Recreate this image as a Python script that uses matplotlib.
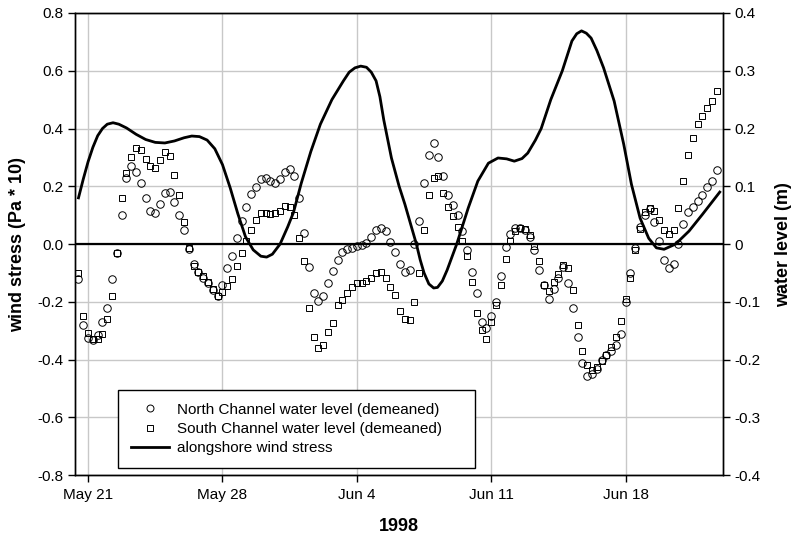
import numpy as np
import matplotlib
matplotlib.use('Agg')
import matplotlib.pyplot as plt
from matplotlib.lines import Line2D

plt.rcParams['font.family'] = ['Liberation Sans', 'DejaVu Sans']

# water level samples every 6 h, starting 12 h before May 21 (m, demeaned)
start_day = -0.5
step_day = 0.25
north = [
    -0.060, -0.140,
    -0.163, -0.166, -0.158, -0.135,
    -0.110, -0.060, -0.015, 0.050,
    0.115, 0.135, 0.125, 0.105,
    0.080, 0.057, 0.054, 0.070,
    0.088, 0.090, 0.072, 0.050,
    0.025, -0.008, -0.035, -0.048,
    -0.058, -0.068, -0.080, -0.090,
    -0.070, -0.042, -0.020, 0.010,
    0.040, 0.065, 0.087, 0.098,
    0.113, 0.115, 0.110, 0.106,
    0.113, 0.125, 0.130, 0.117,
    0.080, 0.020, -0.040, -0.085,
    -0.099, -0.090, -0.067, -0.047,
    -0.028, -0.014, -0.009, -0.006,
    -0.003, -0.002, 0.002, 0.012,
    0.024, 0.028, 0.022, 0.004,
    -0.014, -0.035, -0.048, -0.045,
    0.000, 0.040, 0.105, 0.155,
    0.175, 0.150, 0.118, 0.085,
    0.068, 0.050, 0.022, -0.010,
    -0.048, -0.085, -0.135, -0.145,
    -0.125, -0.100, -0.055, -0.005,
    0.018, 0.027, 0.028, 0.025,
    0.012, -0.010, -0.045, -0.070,
    -0.095, -0.078, -0.058, -0.040,
    -0.068, -0.110, -0.160, -0.205,
    -0.228, -0.224, -0.216, -0.200,
    -0.192, -0.185, -0.175, -0.155,
    -0.100, -0.050, -0.007, 0.030,
    0.050, 0.060, 0.038, 0.005,
    -0.028, -0.042, -0.035, 0.000,
    0.035, 0.055, 0.065, 0.075,
    0.085, 0.098, 0.110, 0.128,
]
south = [
    -0.050, -0.125,
    -0.154, -0.164, -0.165, -0.155,
    -0.130, -0.090, -0.015, 0.080,
    0.123, 0.150, 0.166, 0.163,
    0.148, 0.135, 0.132, 0.145,
    0.160, 0.153, 0.120, 0.085,
    0.038, -0.007, -0.038, -0.049,
    -0.056, -0.065, -0.077, -0.089,
    -0.083, -0.072, -0.061, -0.038,
    -0.015, 0.005, 0.024, 0.042,
    0.053, 0.053, 0.052, 0.053,
    0.058, 0.066, 0.064, 0.050,
    0.010, -0.030, -0.110, -0.160,
    -0.180, -0.175, -0.153, -0.137,
    -0.106, -0.097, -0.085, -0.074,
    -0.067, -0.067, -0.064, -0.059,
    -0.050, -0.048, -0.058, -0.075,
    -0.088, -0.115, -0.130, -0.132,
    -0.100, -0.050, 0.025, 0.085,
    0.114, 0.118, 0.088, 0.065,
    0.048, 0.030, 0.005, -0.020,
    -0.065, -0.120, -0.148, -0.165,
    -0.135, -0.105, -0.070, -0.025,
    0.005, 0.023, 0.028, 0.026,
    0.016, -0.003, -0.030, -0.070,
    -0.081, -0.065, -0.052, -0.036,
    -0.042, -0.080, -0.140, -0.185,
    -0.210, -0.218, -0.212, -0.203,
    -0.192, -0.178, -0.160, -0.133,
    -0.095, -0.058, -0.010, 0.026,
    0.055, 0.063, 0.057, 0.042,
    0.025, 0.018, 0.025, 0.062,
    0.110, 0.155, 0.184, 0.207,
    0.222, 0.235, 0.248, 0.265,
]

# alongshore wind stress (Pa * 10), days after May 21
wind_days = [-0.5, -0.25, 0.0, 0.25, 0.5, 0.75, 1.0, 1.3, 1.6, 2.0, 2.5, 3.0, 3.5,
             4.0, 4.5, 5.0, 5.4, 5.8, 6.2, 6.6, 7.0, 7.4, 7.8, 8.2, 8.6, 9.0, 9.3,
             9.6, 10.0, 10.4, 10.7, 11.1, 11.6, 12.1, 12.7, 13.3, 13.6, 13.9, 14.2,
             14.5, 14.75, 15.0, 15.2, 15.4, 15.8, 16.2, 16.5, 17.1, 17.3, 17.5,
             17.75, 18.0, 18.2, 18.45, 18.7, 18.95, 19.2, 19.8, 20.3, 20.85, 21.35,
             21.8, 22.2, 22.6, 22.9, 23.3, 23.6, 24.1, 24.7, 25.2, 25.45, 25.7,
             25.95, 26.2, 26.5, 26.85, 27.4, 27.9, 28.3, 28.75, 29.2, 29.6, 30.0,
             30.6, 31.3, 32.0, 32.9]
wind = [0.16, 0.225, 0.285, 0.335, 0.375, 0.40, 0.415, 0.42, 0.415, 0.402, 0.38,
        0.362, 0.352, 0.35, 0.357, 0.368, 0.374, 0.372, 0.36, 0.33, 0.275, 0.195,
        0.105, 0.025, -0.02, -0.042, -0.045, -0.035, 0.0, 0.06, 0.11, 0.21, 0.32,
        0.415, 0.50, 0.565, 0.595, 0.61, 0.616, 0.612, 0.595, 0.565, 0.51, 0.43,
        0.298, 0.20, 0.138, 0.0, -0.055, -0.10, -0.138, -0.152, -0.15, -0.128,
        -0.09, -0.045, 0.0, 0.125, 0.218, 0.28, 0.298, 0.295, 0.287, 0.296,
        0.315, 0.36, 0.40, 0.50, 0.60, 0.703, 0.728, 0.738, 0.73, 0.713, 0.67,
        0.61, 0.495, 0.345, 0.207, 0.09, 0.02, -0.013, -0.018, 0.0, 0.045, 0.103,
        0.18]

date_ticks = [0, 7, 14, 21, 28]
date_labels = ['May 21', 'May 28', 'Jun 4', 'Jun 11', 'Jun 18']
left_ticks = [-0.8, -0.6, -0.4, -0.2, 0.0, 0.2, 0.4, 0.6, 0.8]
left_labels = ['-0.8', '-0.6', '-0.4', '-0.2', '0.0', '0.2', '0.4', '0.6', '0.8']
right_ticks = [-0.4, -0.3, -0.2, -0.1, 0.0, 0.1, 0.2, 0.3, 0.4]
right_labels = ['-0.4', '-0.3', '-0.2', '-0.1', '0', '0.1', '0.2', '0.3', '0.4']

days = start_day + step_day * np.arange(len(north))

fig = plt.figure(figsize=(7.99, 5.40), dpi=100)
ax = fig.add_axes([0.0939, 0.12, 0.811, 0.856])
ax2 = ax.twinx()

grid_c = '#c8c8c8'
ax.set_xlim(-0.68, 33.07)
ax.set_ylim(-0.8, 0.8)
ax2.set_ylim(-0.4, 0.4)
for y in left_ticks:
    ax.axhline(y, color=grid_c, lw=1, zorder=0)
for x in date_ticks:
    ax.axvline(x, color=grid_c, lw=1, zorder=0)
ax.axhline(0, color='black', lw=1.6, zorder=1)

ax.plot(wind_days, wind, color='black', lw=2.0, zorder=3)
ax2.plot(days, north, ls='none', marker='o', ms=5.4, mfc='none', mec='black', mew=0.7)
ax2.plot(days, south, ls='none', marker='s', ms=5.0, mfc='none', mec='black', mew=0.7)

ax.set_xticks(date_ticks)
ax.set_xticklabels(date_labels)
ax.set_yticks(left_ticks)
ax.set_yticklabels(left_labels)
ax2.set_yticks(right_ticks)
ax2.set_yticklabels(right_labels)

for a in (ax, ax2):
    a.tick_params(direction='out', length=5, width=1, labelsize=11, colors='black')
    for s in a.spines.values():
        s.set_color('black')
        s.set_linewidth(1)
ax.tick_params(axis='x', pad=4)

ax.set_xlabel('1998', fontsize=13, fontweight='bold', labelpad=12)
ax.set_ylabel('wind stress (Pa * 10)', fontsize=13, fontweight='bold', labelpad=8)
ax2.set_ylabel('water level (m)', fontsize=13, fontweight='bold', labelpad=10)

handles = [
    Line2D([], [], ls='none', marker='o', ms=5, mfc='none', mec='black', mew=0.7),
    Line2D([], [], ls='none', marker='s', ms=4.6, mfc='none', mec='black', mew=0.7),
    Line2D([], [], color='black', lw=2.0),
]
labels = ['North Channel water level (demeaned)',
          'South Channel water level (demeaned)',
          'alongshore wind stress']
leg = ax2.legend(handles, labels, loc='lower left',
                 bbox_to_anchor=(0.066, 0.015, 0.551, 0.17), mode='expand',
                 borderaxespad=0, fontsize=11, handlelength=2.5, handletextpad=0.5,
                 labelspacing=0.35, borderpad=0.85, fancybox=False, framealpha=1)
leg.get_frame().set_edgecolor('black')
leg.get_frame().set_linewidth(1)

fig.savefig('out.png', dpi=100)
